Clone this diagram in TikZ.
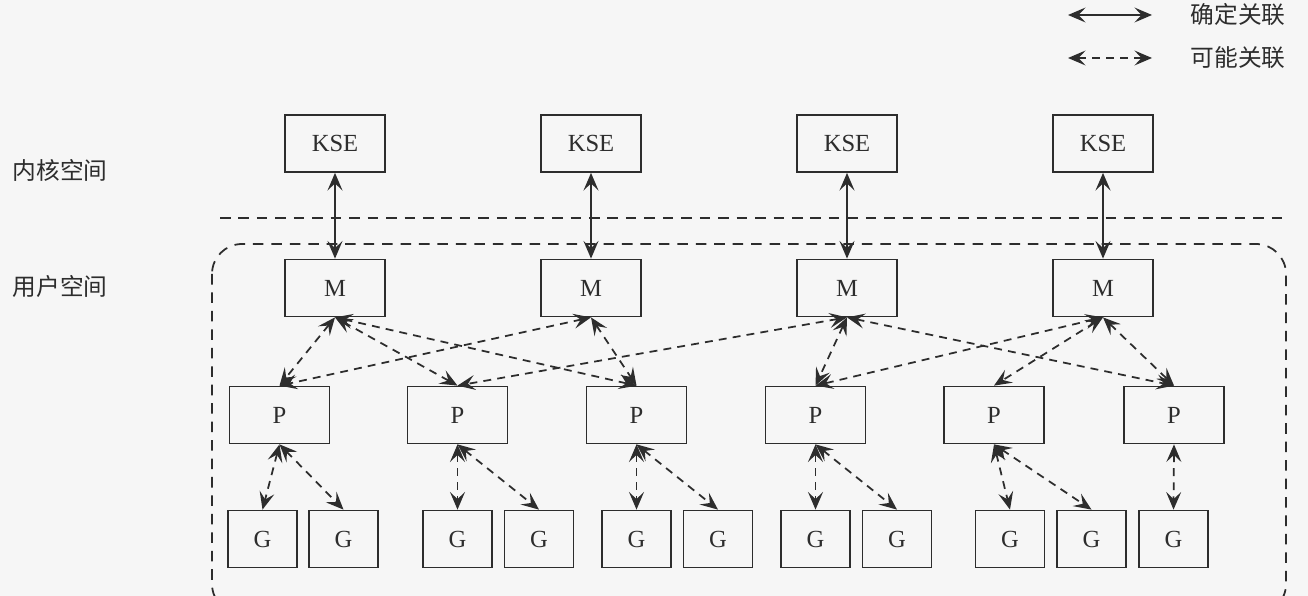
\documentclass[tikz,border=0pt]{standalone}
\usepackage{fontspec}
\setmainfont{Liberation Serif}
\newfontfamily\cjk{Noto Sans CJK SC}
\usetikzlibrary{arrows.meta}
\definecolor{ink}{RGB}{45,45,45}
\definecolor{paper}{RGB}{246,246,246}

\begin{document}
\begin{tikzpicture}[x=0.2mm, y=-0.2mm, line width=1pt, color=ink,
    font=\fontsize{14}{16}\selectfont,
    >={Stealth[length=10pt,width=8.5pt,inset=4pt]},
    box/.style={draw, rectangle, inner sep=0pt, minimum width=20mm, minimum height=11.4mm},
    gbox/.style={box, minimum width=13.8mm},
    sure/.style={<->},
    maybe/.style={<->, dash pattern=on 4.5pt off 3.5pt},
    zone/.style={dash pattern=on 6pt off 4.5pt},
    cjktext/.style={font=\cjk\fontsize{13.5}{16}\selectfont}]
    \useasboundingbox (0,0) rectangle (1308,596);
    \fill[paper] (0,0) rectangle (1308,596);
    \clip (0,0) rectangle (1308,596);

    % legend
    \coordinate (sa) at (1068,15);
    \coordinate (sb) at (1152,15);
    \coordinate (da) at (1068,58);
    \coordinate (db) at (1152,58);
    \draw[sure, line width=0.8pt] (sa) -- (sb);
    \draw[maybe, line width=0.8pt] (da) -- (db);
    \node[cjktext, anchor=west] (surelbl) at (1184,15) {确定关联};
    \node[cjktext, anchor=west] (maybelbl) at (1184,58) {可能关联};

    % spaces
    \node[cjktext, anchor=west] (kernel) at (6,170) {内核空间};
    \node[cjktext, anchor=west] (user) at (6,286) {用户空间};
    \draw[zone] (220,218) -- (1290,218);
    \draw[zone, rounded corners=6mm] (212,244) rectangle (1286,614);

    % boxes
    \foreach \x [count=\i] in {335,591,847,1103} {
      \node[box] (k\i) at (\x,143.5) {KSE};
      \node[box] (m\i) at (\x,288) {M};
    }
    \foreach \x [count=\i] in {279.5,457.5,636.5,815.5,994,1174}
      \node[box] (p\i) at (\x,415) {P};
    \foreach \x [count=\i] in {262.5,343.5,457.5,539,636.5,718,815.5,897,1010,1091.5,1173.5}
      \node[gbox] (g\i) at (\x,539) {G};

    % links
    \foreach \i in {1,...,4}
      \draw[sure] (k\i) -- (m\i);
    \foreach \a/\b in {1/1,1/2,1/3,2/1,2/3,3/2,3/4,3/6,4/4,4/5,4/6}
      \draw[maybe] (m\a.south) -- (p\b.north);
    \foreach \a/\b in {1/1,1/2,2/3,2/4,3/5,3/6,4/7,4/8,5/9,5/10,6/11}
      \draw[maybe] (p\a.south) -- (g\b.north);
\end{tikzpicture}
\end{document}
